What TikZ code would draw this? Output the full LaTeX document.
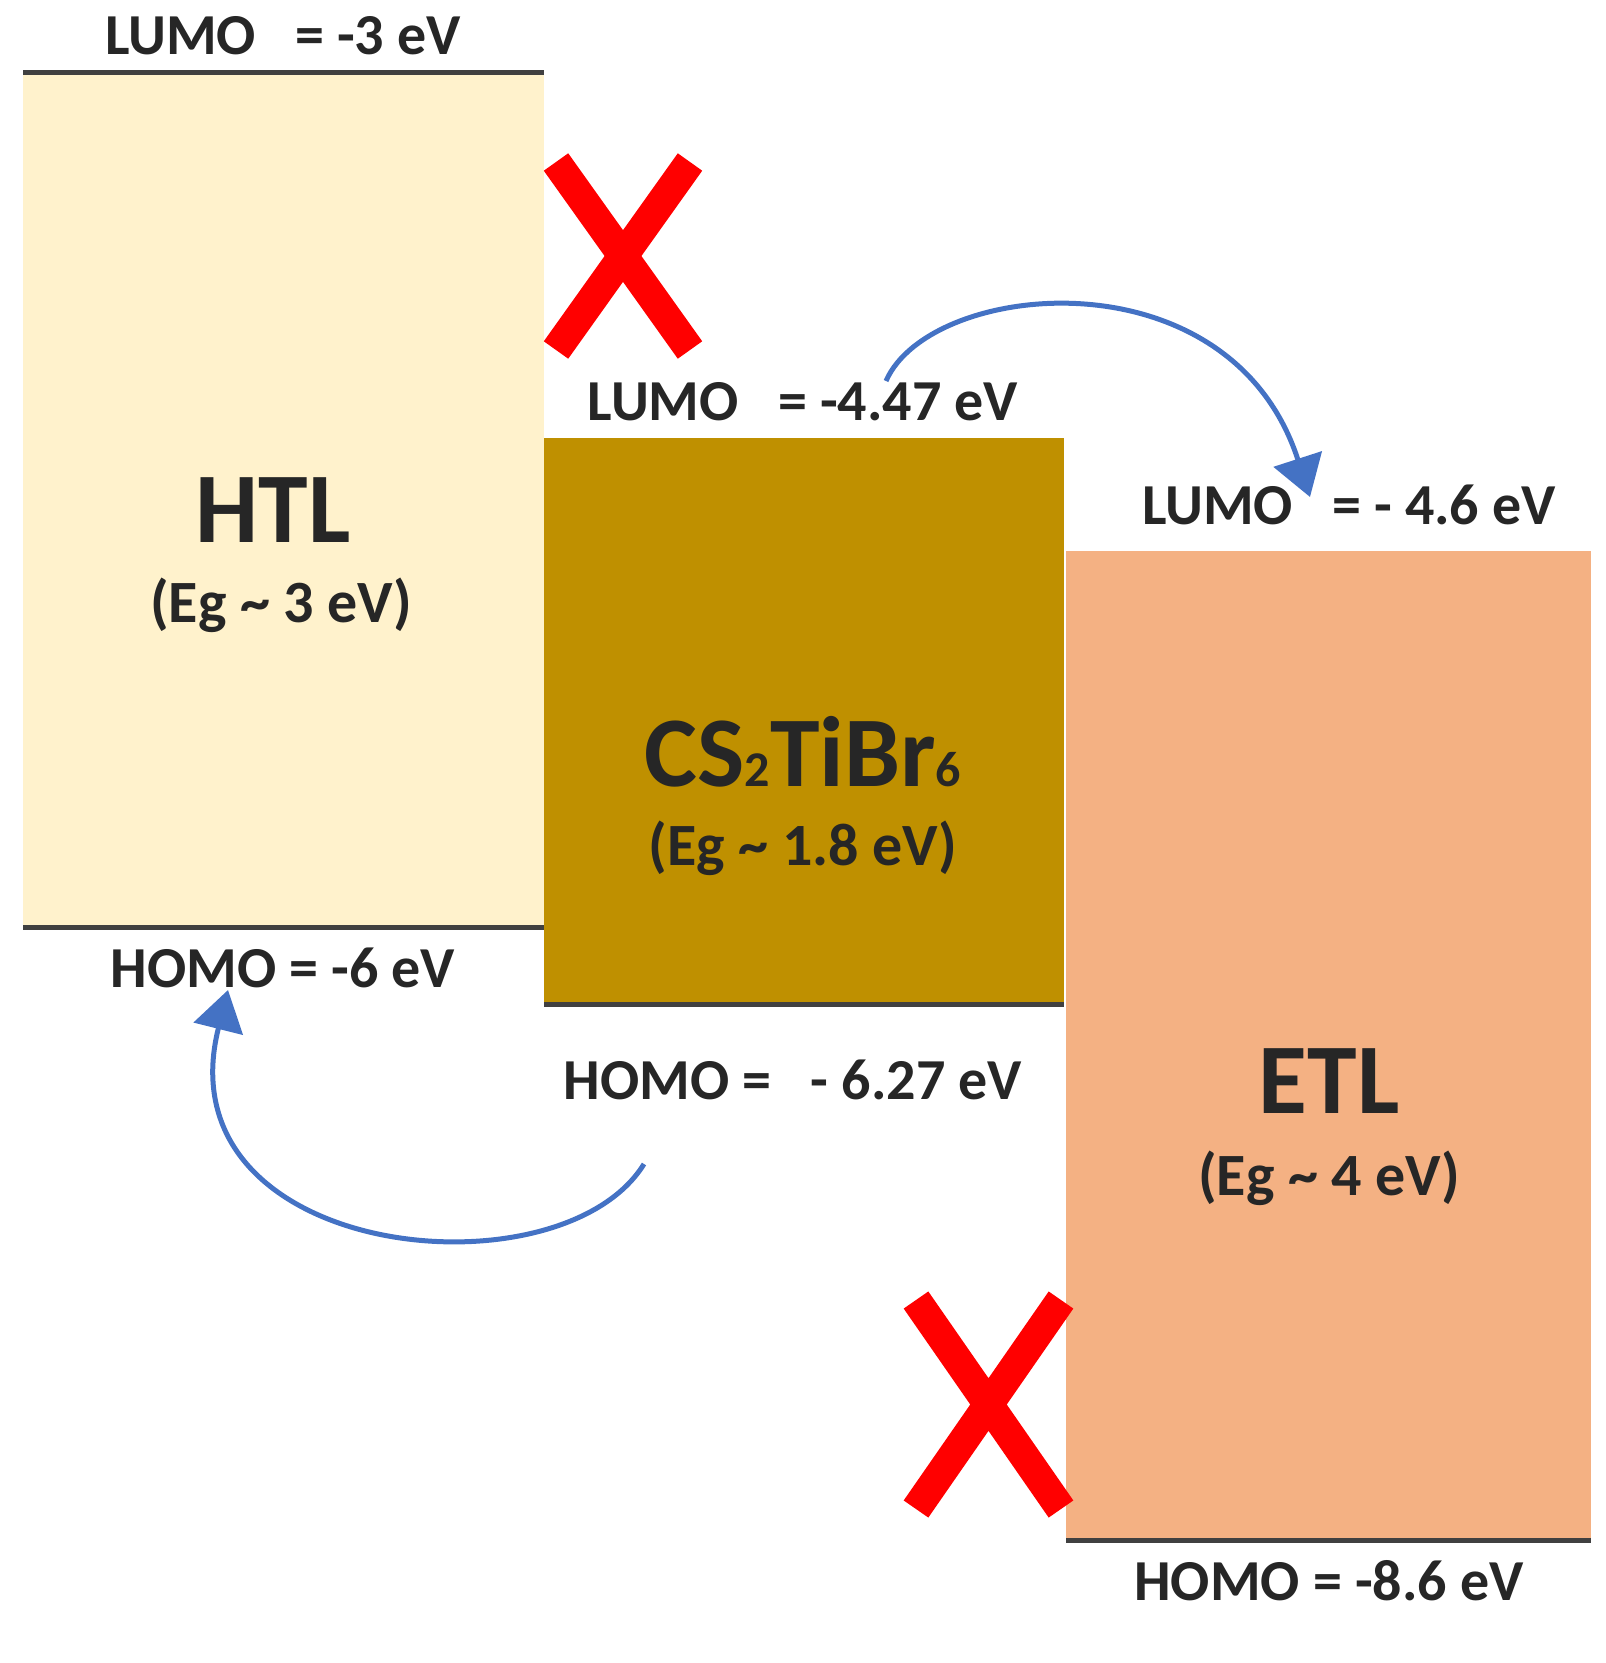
\documentclass[tikz,border=0pt]{standalone}
\usepackage{fontspec}
\setmainfont{Carlito}
\usetikzlibrary{arrows.meta}
\definecolor{htl}{HTML}{FFF2CC}
\definecolor{mid}{HTML}{BF9000}
\definecolor{etl}{HTML}{F4B183}
\definecolor{arr}{HTML}{4472C4}
\newcommand{\smsub}[1]{{\fontsize{50}{50}\selectfont #1}}
\begin{document}
\begin{tikzpicture}[x=1pt,y=-1pt,
  lvl/.style={line width=5pt,draw=black!75},
  lab/.style={font=\fontsize{58}{62}\selectfont\bfseries,text=black!85},
  big/.style={font=\fontsize{100}{110}\selectfont\bfseries,text=black!85},
  eg/.style={font=\fontsize{60}{64}\selectfont\bfseries,text=black!85},
  xx/.style={line width=30pt,red},
  flow/.style={line width=5pt,arr,-{Triangle[length=40pt,width=50pt]}}]
\useasboundingbox (0,0) rectangle (1606,1663);
\fill[htl] (23,72) rectangle (544,927);
\fill[mid] (544,438) rectangle (1064,1004);
\fill[etl] (1066,551) rectangle (1591,1540);
\draw[lvl] (23,72) -- (544,72);
\draw[lvl] (23,927) -- (544,927);
\draw[lvl] (544,1004) -- (1064,1004);
\draw[lvl] (1066,1540) -- (1591,1540);
\node[lab] (l1) at (283,36) {LUMO ~ = -3 eV};
\node[lab] (l2) at (803,402) {LUMO ~ = -4.47 eV};
\node[lab] (l3) at (1349,505) {LUMO ~ = - 4.6 eV};
\node[lab] (h1) at (283,968) {HOMO = -6 eV};
\node[lab] (h2) at (793,1080) {HOMO = ~ - 6.27 eV};
\node[lab] (h3) at (1329,1581) {HOMO = -8.6 eV};
\node[big] (t1) at (273,510) {HTL};
\node[eg] (e1) at (281,605) {(Eg \textasciitilde{} 3 eV)};
\node[big] (t2) at (803,752) {CS\smsub{2}TiBr\smsub{6}};
\node[eg] (e2) at (803,848) {(Eg \textasciitilde{} 1.8 eV)};
\node[big] (t3) at (1329,1081) {ETL};
\node[eg] (e3) at (1329,1178) {(Eg \textasciitilde{} 4 eV)};
\draw[xx] (556,162) -- (690,350) (690,162) -- (556,350);
\draw[xx] (916,1300) -- (1061,1509) (1061,1300) -- (916,1509);
\coordinate (a1) at (886,381);
\coordinate (a2) at (1310,497);
\draw[flow] (a1) .. controls (930,280) and (1230,250) .. (a2);
\coordinate (b1) at (644,1164);
\coordinate (b2) at (228,990);
\draw[flow] (b1) .. controls (560,1300) and (160,1260) .. (b2);
\end{tikzpicture}
\end{document}
